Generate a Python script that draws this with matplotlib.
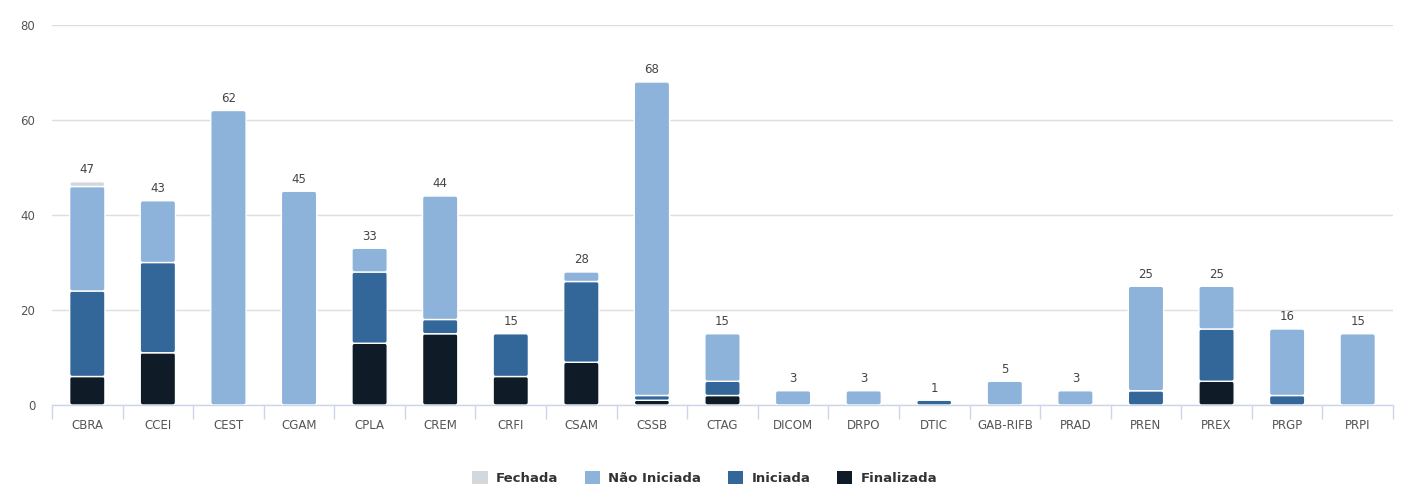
import numpy as np
import matplotlib.pyplot as plt
from matplotlib.patches import Patch, FancyBboxPatch

# data
categorias = ["CBRA", "CCEI", "CEST", "CGAM", "CPLA", "CREM", "CRFI", "CSAM", "CSSB", "CTAG",
              "DICOM", "DRPO", "DTIC", "GAB-RIFB", "PRAD", "PREN", "PREX", "PRGP", "PRPI"]
finalizada = [6, 11, 0, 0, 13, 15, 6, 9, 1, 2, 0, 0, 0, 0, 0, 0, 5, 0, 0]
iniciada = [18, 19, 0, 0, 15, 3, 9, 17, 1, 3, 0, 0, 1, 0, 0, 3, 11, 2, 0]
nao_iniciada = [22, 13, 62, 45, 5, 26, 0, 2, 66, 10, 3, 3, 0, 5, 3, 22, 9, 14, 15]
fechada = [1, 0, 0, 0, 0, 0, 0, 0, 0, 0, 0, 0, 0, 0, 0, 0, 0, 0, 0]
y_ticks = [0, 20, 40, 60, 80]

series = [("Finalizada", finalizada, "#0f1b27"),
          ("Iniciada", iniciada, "#336699"),
          ("Não Iniciada", nao_iniciada, "#8db3da"),
          ("Fechada", fechada, "#d3d8dd")]

fig = plt.figure(figsize=(14.09, 4.92), dpi=100)
ax = fig.add_axes([52/1409, 1-405/492, 1341/1409, 380/492])
ax.set_xlim(-0.5, len(categorias) - 0.5)
ax.set_ylim(0, 80)

# pixels per data unit, used to keep corner rounding circular
px_x = 1341 / len(categorias)
px_y = 380 / 80

x = np.arange(len(categorias))
bottom = np.zeros(len(categorias))
for nome, vals, cor in series:
    vals = np.array(vals, dtype=float)
    bars = ax.bar(x, vals, bottom=bottom, width=0.5, color=cor, zorder=3)
    for b in bars:
        bx, by, bw, bh = b.get_x(), b.get_y(), b.get_width(), b.get_height()
        b.remove()
        if bh <= 0:
            continue
        p = FancyBboxPatch((bx, by), bw, bh, boxstyle="round,pad=0,rounding_size=0.035",
                           mutation_aspect=px_x / px_y, facecolor=cor, edgecolor="white",
                           linewidth=1.0, zorder=3)
        ax.add_patch(p)
    bottom += vals

totais = bottom
for xi, t in zip(x, totais):
    ax.text(xi, t + 1.2, f"{int(t)}", ha="center", va="bottom", fontsize=8.5, color="#444444", zorder=4)

ax.set_yticks(y_ticks)
ax.set_yticklabels([str(v) for v in y_ticks], fontsize=8.5, color="#555555")
ax.yaxis.grid(True, color="#dedede", linewidth=1, zorder=0)
ax.tick_params(axis="y", length=0, pad=12)

ax.set_xticks(x)
ax.set_xticklabels(categorias, fontsize=8.5, color="#555555")
ax.tick_params(axis="x", which="major", length=0, pad=10)
ax.set_xticks(np.arange(-0.5, len(categorias), 1), minor=True)
ax.tick_params(axis="x", which="minor", length=10, color="#ccd6eb", width=1)

for s in ["top", "right", "left"]:
    ax.spines[s].set_visible(False)
ax.spines["bottom"].set_color("#ccd6eb")
ax.spines["bottom"].set_linewidth(1)

handles = [Patch(facecolor=c, edgecolor="none", label=n) for n, v, c in
           [series[3], series[2], series[1], series[0]]]
leg = fig.legend(handles=handles, loc="center", bbox_to_anchor=(0.5, 1 - 478/492), ncol=4,
                 frameon=False, prop={"weight": "bold", "size": 9.5}, handlelength=1.2,
                 handleheight=1.2, columnspacing=2.0, handletextpad=0.6)
for t in leg.get_texts():
    t.set_color("#333333")

fig.savefig("out.png", dpi=100)
